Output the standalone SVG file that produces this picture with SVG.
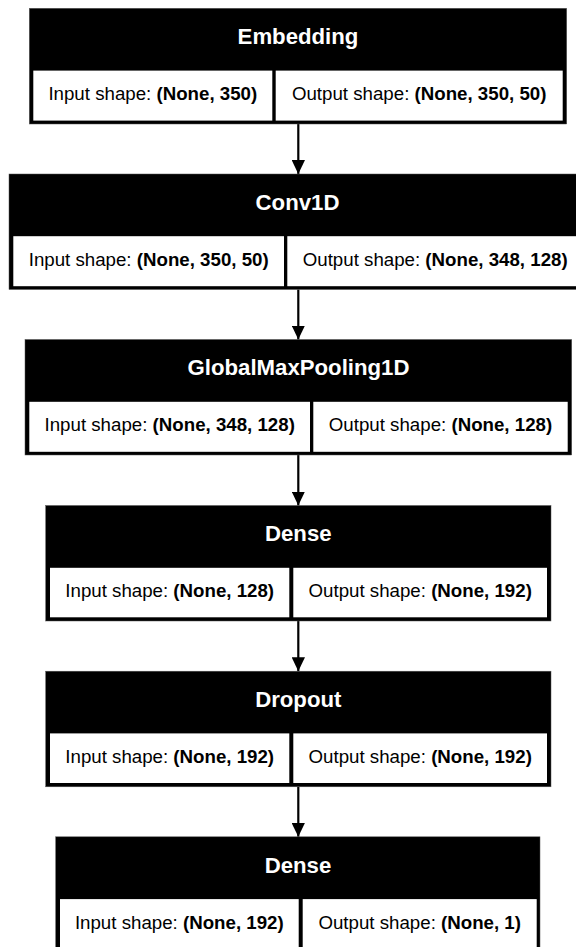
<svg xmlns="http://www.w3.org/2000/svg" width="576" height="947" viewBox="0 0 576 947">
<defs>
<style>
.outer{fill:#000;stroke:#555;stroke-width:0.5}
.cell{fill:#fff}
.title{font-family:"Liberation Sans",Arial,sans-serif;font-size:22.2px;font-weight:bold;fill:#fff;text-anchor:middle}
.lbl{font-family:"Liberation Sans",Arial,sans-serif;font-size:18.7px;fill:#000;text-anchor:middle}
.b{font-weight:bold}
.edge{stroke:#000;stroke-width:2.2;fill:none;marker-end:url(#arrow)}
</style>
<marker id="arrow" viewBox="0 0 14 13.4" refX="14" refY="6.7" markerWidth="14" markerHeight="13.4" orient="auto" markerUnits="userSpaceOnUse">
<path d="M0,0 L14,6.7 L0,13.4 z" fill="#000"/>
</marker>
</defs>
<rect width="576" height="947" fill="#fff"/>

<g id="connectors">
<path class="edge" d="M298.3,124 L298.3,174"/>
<path class="edge" d="M298.3,289.5 L298.3,339.5"/>
<path class="edge" d="M298.3,455 L298.3,505.5"/>
<path class="edge" d="M298.3,621 L298.3,671.2"/>
<path class="edge" d="M298.3,786.8 L298.3,836.8"/>
</g>

<g id="node-embedding">
<rect class="outer" x="29.3" y="8.3" width="537.4" height="115.7"/>
<rect class="cell" x="33.3" y="70.6" width="239" height="50"/>
<rect class="cell" x="275.7" y="70.6" width="287" height="50"/>
<text class="title" x="298" y="44.2">Embedding</text>
<text class="lbl" x="152.8" y="100.1">Input shape: <tspan class="b">(None, 350)</tspan></text>
<text class="lbl" x="419.2" y="100.1">Output shape: <tspan class="b">(None, 350, 50)</tspan></text>
</g>

<g id="node-conv1d">
<rect class="outer" x="9" y="174" width="578" height="115.5"/>
<rect class="cell" x="13.3" y="236.2" width="270.7" height="50"/>
<rect class="cell" x="287.3" y="236.2" width="295.7" height="50"/>
<text class="title" x="297.5" y="209.8">Conv1D</text>
<text class="lbl" x="148.7" y="265.8">Input shape: <tspan class="b">(None, 350, 50)</tspan></text>
<text class="lbl" x="435.2" y="265.8">Output shape: <tspan class="b">(None, 348, 128)</tspan></text>
</g>

<g id="node-globalmaxpooling1d">
<rect class="outer" x="25" y="339.5" width="546.7" height="115.5"/>
<rect class="cell" x="29.3" y="401.8" width="280.7" height="50"/>
<rect class="cell" x="313.3" y="401.8" width="254.4" height="50"/>
<text class="title" x="298.5" y="375.4">GlobalMaxPooling1D</text>
<text class="lbl" x="169.7" y="431.3">Input shape: <tspan class="b">(None, 348, 128)</tspan></text>
<text class="lbl" x="440.5" y="431.3">Output shape: <tspan class="b">(None, 128)</tspan></text>
</g>

<g id="node-dense">
<rect class="outer" x="45.7" y="505.5" width="505.3" height="115.5"/>
<rect class="cell" x="50" y="567.8" width="239.3" height="49.5"/>
<rect class="cell" x="293.3" y="567.8" width="253.7" height="49.5"/>
<text class="title" x="298.3" y="541.4">Dense</text>
<text class="lbl" x="169.7" y="597.3">Input shape: <tspan class="b">(None, 128)</tspan></text>
<text class="lbl" x="420.2" y="597.3">Output shape: <tspan class="b">(None, 192)</tspan></text>
</g>

<g id="node-dropout">
<rect class="outer" x="45.7" y="671.2" width="505.3" height="115.6"/>
<rect class="cell" x="50" y="733.4" width="239.3" height="49.6"/>
<rect class="cell" x="293.3" y="733.4" width="253.7" height="49.6"/>
<text class="title" x="298.3" y="707.1">Dropout</text>
<text class="lbl" x="169.7" y="763">Input shape: <tspan class="b">(None, 192)</tspan></text>
<text class="lbl" x="420.2" y="763">Output shape: <tspan class="b">(None, 192)</tspan></text>
</g>

<g id="node-dense-1">
<rect class="outer" x="55.7" y="836.8" width="484.3" height="115.7"/>
<rect class="cell" x="60" y="899.1" width="238.7" height="50"/>
<rect class="cell" x="302.7" y="899.1" width="234" height="50"/>
<text class="title" x="298" y="872.7">Dense</text>
<text class="lbl" x="179.3" y="928.6">Input shape: <tspan class="b">(None, 192)</tspan></text>
<text class="lbl" x="419.7" y="928.6">Output shape: <tspan class="b">(None, 1)</tspan></text>
</g>
</svg>
